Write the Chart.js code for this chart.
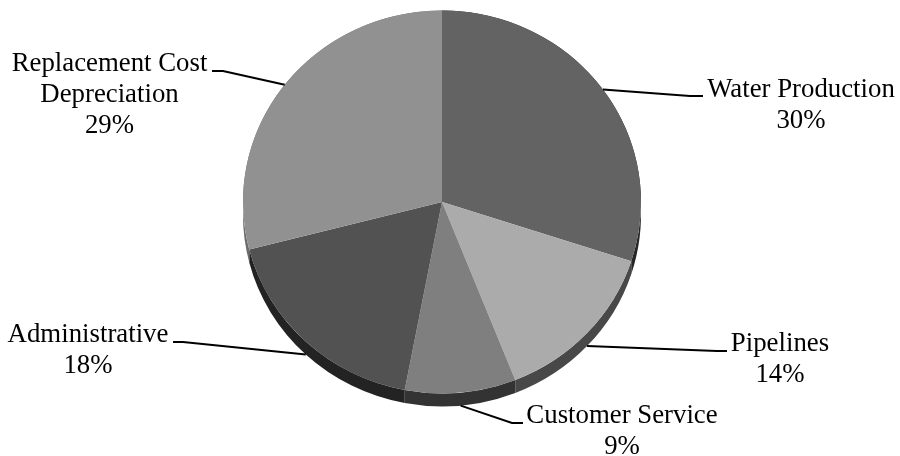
<!DOCTYPE html>
<html>
<head>
<meta charset="utf-8">
<style>
  html, body { margin: 0; padding: 0; background: #fff; }
  canvas { display: block; }
</style>
<script src="https://cdn.jsdelivr.net/npm/chart.js@4/dist/chart.umd.min.js"></script>
</head>
<body>
<canvas id="costChart" width="900" height="456"></canvas>
<script>
// Cost share pie, slightly tilted with a thin dark rim
const categories = ['Water Production', 'Pipelines', 'Customer Service', 'Administrative', 'Replacement Cost\nDepreciation'];
const shares = [30, 14, 9, 18, 29];
const sliceColors = ['#636363', '#ababab', '#7f7f7f', '#525252', '#919191'];
const rimColors = ['#262626', '#484848', '#333333', '#232323', '#6c6c6c'];

const TILT = 0.962;
const DEPTH = 13;

// knee = where the leader flattens, end = where it stops, text = label centre / first baseline
const leaders = [
    { rim: false, knee: [690, 96], end: [703, 96], text: [801, 97] },
    { rim: true, knee: [717, 351], end: [727, 351], text: [780, 351] },
    { rim: true, knee: [512, 423], end: [523, 423], text: [622, 423] },
    { rim: true, knee: [183, 342], end: [173, 342], text: [88, 342] },
    { rim: false, knee: [223, 71], end: [212, 71], text: [109.5, 71] }
];

const tiltedPie = {
    id: 'tiltedPie',
    beforeDatasetsDraw(chart) {
        const ctx = chart.ctx;
        const arcs = chart.getDatasetMeta(0).data;
        ctx.save();
        arcs.forEach((arc, i) => {
            const ry = arc.outerRadius * TILT;
            ctx.beginPath();
            ctx.ellipse(arc.x, arc.y, arc.outerRadius, ry, 0, arc.startAngle, arc.endAngle);
            ctx.ellipse(arc.x, arc.y + DEPTH, arc.outerRadius, ry, 0, arc.endAngle, arc.startAngle, true);
            ctx.closePath();
            ctx.fillStyle = rimColors[i];
            ctx.fill();
        });
        ctx.restore();

        // squash the top face
        const first = arcs[0];
        ctx.save();
        ctx.translate(first.x, first.y);
        ctx.scale(1, TILT);
        ctx.translate(-first.x, -first.y);
    },
    afterDatasetsDraw(chart) {
        const ctx = chart.ctx;
        ctx.restore();

        const arcs = chart.getDatasetMeta(0).data;
        ctx.save();
        ctx.strokeStyle = '#000';
        ctx.lineWidth = 2;
        ctx.fillStyle = '#000';
        ctx.font = '26.8px "Liberation Serif"';
        ctx.textAlign = 'center';
        ctx.textBaseline = 'alphabetic';
        arcs.forEach((arc, i) => {
            const mid = (arc.startAngle + arc.endAngle) / 2;
            const leader = leaders[i];
            const startX = arc.x + arc.outerRadius * Math.cos(mid);
            const startY = arc.y + arc.outerRadius * TILT * Math.sin(mid) + (leader.rim ? DEPTH : 0);
            ctx.beginPath();
            ctx.moveTo(startX, startY);
            ctx.lineTo(leader.knee[0], leader.knee[1]);
            ctx.lineTo(leader.end[0], leader.end[1]);
            ctx.stroke();

            const lines = categories[i].split('\n').concat(shares[i] + '%');
            lines.forEach((line, n) => {
                ctx.fillText(line, leader.text[0], leader.text[1] + n * 31);
            });
        });
        ctx.restore();
    }
};

new Chart(document.getElementById('costChart'), {
    type: 'pie',
    data: {
        labels: categories,
        datasets: [{
            data: shares,
            backgroundColor: sliceColors,
            borderWidth: 0
        }]
    },
    options: {
        responsive: false,
        animation: false,
        radius: 199,
        layout: { padding: { right: 16, bottom: 52 } },
        plugins: {
            legend: { display: false },
            tooltip: { enabled: false }
        }
    },
    plugins: [tiltedPie]
});
</script>
</body>
</html>
